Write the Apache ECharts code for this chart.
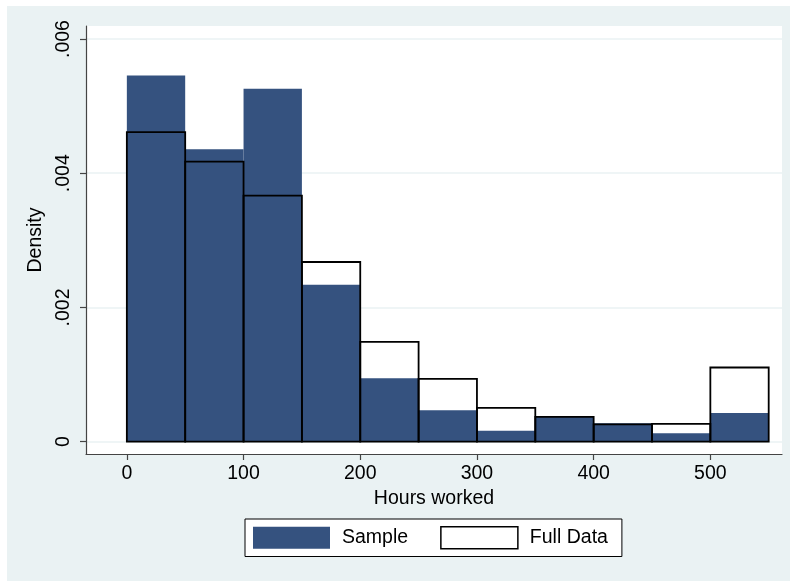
<!DOCTYPE html>
<html>
<head>
<meta charset="utf-8">
<script src="https://cdn.jsdelivr.net/npm/echarts@6/dist/echarts.min.js"></script>
<style>
html,body{margin:0;padding:0;background:#ffffff;}
#wrap{position:absolute;left:7px;top:6px;width:783px;height:575px;background:#EAF2F3;}
#chart{width:783px;height:575px;}
</style>
</head>
<body>
<div id="wrap"><div id="chart"></div></div>
<script>
// Bin edges (hours worked)
const binStarts = [0, 50, 100, 150, 200, 250, 300, 350, 400, 450, 500];
const binWidth = 50;
// Densities
const sampleDensity = [0.005458, 0.004358, 0.005260, 0.002339, 0.000946, 0.000468, 0.000164, 0.000369, 0.000274, 0.000125, 0.000428];
const fullDensity   = [0.004612, 0.004174, 0.003667, 0.002677, 0.001488, 0.000936, 0.000503, 0.000369, 0.000257, 0.000264, 0.001105];
// Ticks
const xTicks = [0, 100, 200, 300, 400, 500];
const yTicks = [0, 0.002, 0.004, 0.006];

const FONT = 'Liberation Sans, Arial, Helvetica, sans-serif';
const FS = 19.5;
const NAVY = '#35527f';

function toData(vals) {
  return binStarts.map((s, i) => [s, s + binWidth, vals[i]]);
}

function makeRender(fill, stroke, lw) {
  return function (params, api) {
    const p0 = api.coord([api.value(0), api.value(2)]);
    const p1 = api.coord([api.value(1), 0]);
    return {
      type: 'rect',
      shape: {x: p0[0], y: p0[1], width: p1[0] - p0[0], height: p1[1] - p0[1]},
      style: {fill: fill, stroke: stroke, lineWidth: lw}
    };
  };
}

const chart = echarts.init(document.getElementById('chart'), null, {renderer: 'canvas'});
chart.setOption({
  backgroundColor: 'transparent',
  animation: false,
  textStyle: {fontFamily: FONT},
  grid: {left: 79, right: 8, top: 20, bottom: 127, show: true, backgroundColor: '#ffffff', borderWidth: 0},
  legend: {
    left: 238, top: 513,
    padding: [7, 14, 7, 8],
    backgroundColor: '#ffffff',
    borderColor: '#000000', borderWidth: 1,
    itemWidth: 77, itemHeight: 22, itemGap: 32,
    textStyle: {fontFamily: FONT, fontSize: FS, color: '#000', padding: [0, 0, 0, 7]},
    selectedMode: false,
    data: [
      {name: 'Sample', icon: 'rect', itemStyle: {color: NAVY, borderWidth: 0}},
      {name: 'Full Data', icon: 'rect', itemStyle: {color: '#ffffff', borderColor: '#000000', borderWidth: 1.5}}
    ]
  },
  xAxis: {
    type: 'value', min: -35, max: 561.4,
    name: 'Hours worked', nameLocation: 'middle', nameGap: 31,
    nameTextStyle: {fontFamily: FONT, fontSize: FS, color: '#000'},
    axisLine: {show: true, onZero: false, lineStyle: {color: '#444', width: 1.2}},
    axisTick: {show: true, length: 6, customValues: xTicks, lineStyle: {color: '#444', width: 1.2}},
    axisLabel: {customValues: xTicks, fontFamily: FONT, fontSize: FS, color: '#000', margin: 10},
    splitLine: {show: false}
  },
  yAxis: {
    type: 'value', min: -0.000184, max: 0.006194,
    name: 'Density', nameLocation: 'middle', nameGap: 32, nameRotate: 90,
    nameTextStyle: {fontFamily: FONT, fontSize: FS, color: '#000'},
    axisLine: {show: true, onZero: false, lineStyle: {color: '#444', width: 1.2}},
    axisTick: {show: true, length: 6, customValues: yTicks, lineStyle: {color: '#444', width: 1.2}},
    axisLabel: {
      customValues: yTicks, rotate: 90, fontFamily: FONT, fontSize: FS, color: '#000', margin: 12,
      formatter: function (v) { return v === 0 ? '0' : '.' + (Math.round(v * 1000)).toString().padStart(3, '0'); }
    },
    splitLine: {show: true, lineStyle: {color: '#EAF2F3', width: 1.5}}
  },
  series: [
    {
      name: 'Sample', type: 'custom', data: toData(sampleDensity),
      encode: {x: [0, 1], y: 2},
      itemStyle: {color: NAVY},
      renderItem: makeRender(NAVY, null, 0), z: 2
    },
    {
      name: 'Full Data', type: 'custom', data: toData(fullDensity),
      encode: {x: [0, 1], y: 2},
      itemStyle: {color: '#ffffff'},
      renderItem: makeRender(null, '#000000', 1.8), z: 3
    }
  ]
});
</script>
</body>
</html>
